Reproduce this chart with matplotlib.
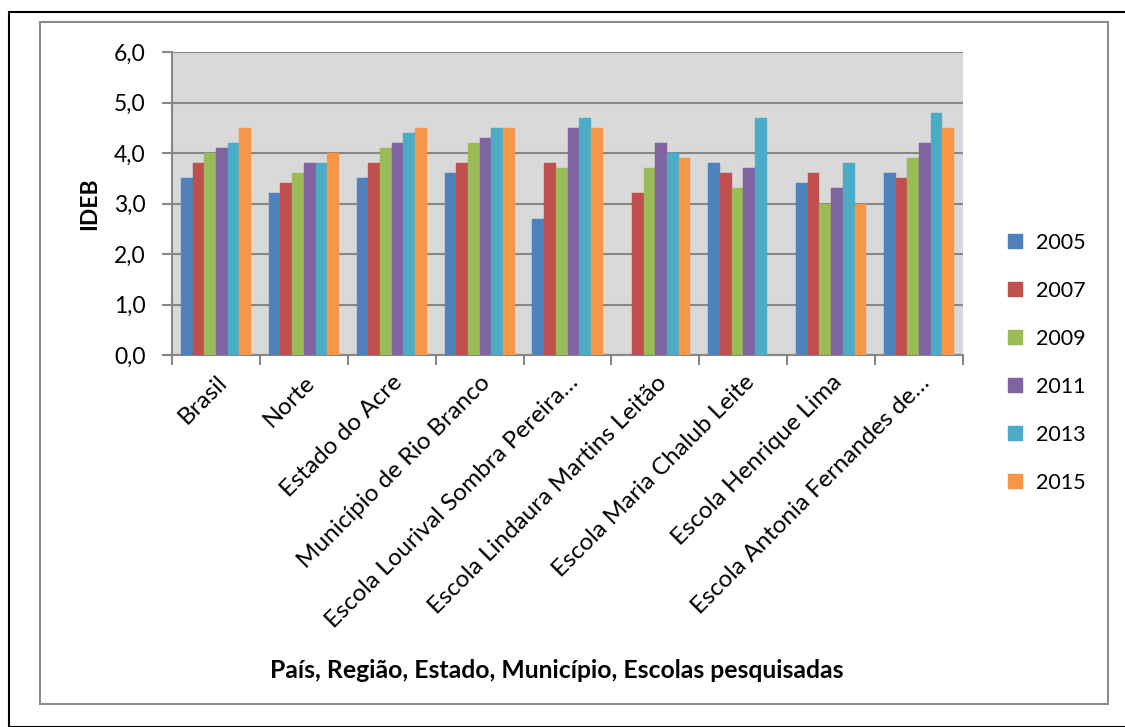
import matplotlib
matplotlib.use("Agg")
import matplotlib.pyplot as plt
from matplotlib.patches import Rectangle
from matplotlib.ticker import FuncFormatter
from matplotlib.transforms import ScaledTranslation
import numpy as np

plt.rcParams['font.family'] = ['Lato', 'DejaVu Sans']

# Dados do IDEB
categorias = ["Brasil", "Norte", "Estado do Acre", "Município de Rio Branco",
              "Escola Lourival Sombra Pereira…", "Escola Lindaura Martins Leitão",
              "Escola Maria Chalub Leite", "Escola Henrique Lima",
              "Escola Antonia Fernandes de…"]
anos = ["2005", "2007", "2009", "2011", "2013", "2015"]
v2005 = [3.5, 3.2, 3.5, 3.6, 2.7, np.nan, 3.8, 3.4, 3.6]
v2007 = [3.8, 3.4, 3.8, 3.8, 3.8, 3.2, 3.6, 3.6, 3.5]
v2009 = [4.0, 3.6, 4.1, 4.2, 3.7, 3.7, 3.3, 3.0, 3.9]
v2011 = [4.1, 3.8, 4.2, 4.3, 4.5, 4.2, 3.7, 3.3, 4.2]
v2013 = [4.2, 3.8, 4.4, 4.5, 4.7, 4.0, 4.7, 3.8, 4.8]
v2015 = [4.5, 4.0, 4.5, 4.5, 4.5, 3.9, np.nan, 3.0, 4.5]
series = [v2005, v2007, v2009, v2011, v2013, v2015]
cores = ["#4F81BD", "#C0504D", "#9BBB59", "#8064A2", "#4BACC6", "#F79646"]

W, H = 1125, 727
fig = plt.figure(figsize=(W / 100, H / 100), dpi=100)

# molduras
fig.patches.append(Rectangle((9 / W, 0), 1.2, 1 - 12 / H, transform=fig.transFigure,
                             fill=False, edgecolor="black", linewidth=1.5))
fig.patches.append(Rectangle((40 / W, 1 - 704 / H), (1108 - 40) / W, (704 - 22) / H,
                             transform=fig.transFigure, fill=False,
                             edgecolor="#8C8C8C", linewidth=1.5))

ax = fig.add_axes([172 / W, 1 - 355 / H, (963 - 172) / W, (355 - 52) / H])
ax.set_facecolor("#D9D9D9")

x = np.arange(len(categorias))
largura = 0.133
for i, (vals, cor, ano) in enumerate(zip(series, cores, anos)):
    ax.bar(x + (i - 2.5) * largura, vals, width=largura, color=cor, label=ano,
           edgecolor=cor, linewidth=0.3, zorder=3)

ax.set_xlim(-0.5, len(categorias) - 0.5)
ax.set_ylim(0, 6)
ax.set_yticks(np.arange(0, 6.1, 1))
ax.yaxis.set_major_formatter(FuncFormatter(lambda v, p: f"{v:.1f}".replace(".", ",")))
ax.grid(axis="y", color="#878787", linewidth=1.5, zorder=1)

ax.set_xticks(x)
ax.set_xticklabels(categorias, rotation=45, ha="right", rotation_mode="anchor", fontsize=17.5)
desloc = ScaledTranslation(-7 / 100, 0, fig.dpi_scale_trans)
for lab in ax.get_xticklabels():
    lab.set_transform(lab.get_transform() + desloc)
ax.set_xticks(np.arange(-0.5, len(categorias)), minor=True)
ax.tick_params(axis="x", which="major", length=0, pad=12)
ax.tick_params(axis="x", which="minor", length=7, width=1.5, color="#878787")
ax.tick_params(axis="y", length=7, width=1.5, color="#878787", labelsize=16.5, pad=12)

for s in ["top", "right"]:
    ax.spines[s].set_visible(False)
for s in ["left", "bottom"]:
    ax.spines[s].set_color("#878787")
    ax.spines[s].set_linewidth(1.5)

ax.set_ylabel("IDEB", fontsize=16.5, fontweight="bold", labelpad=10)
fig.text(557 / W, 1 - 670 / H, "País, Região, Estado, Município, Escolas pesquisadas",
         ha="center", va="center", fontsize=17.8, fontweight="bold")

fig.legend(loc="center left", bbox_to_anchor=(989 / W, 1 - 363 / H), frameon=False,
           fontsize=15.5, handlelength=0.7, handleheight=0.7, labelspacing=1.3,
           handletextpad=0.6)

fig.savefig("out.png", dpi=100)
